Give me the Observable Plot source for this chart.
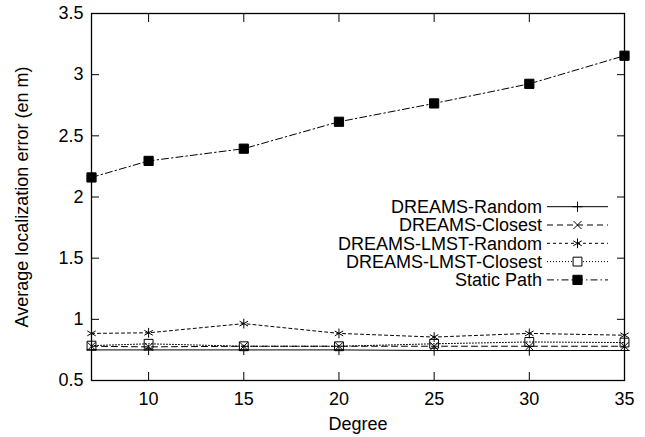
<!DOCTYPE html>
<html>
<head>
<meta charset="utf-8">
<script src="https://cdn.jsdelivr.net/npm/d3@7"></script>
<script src="https://cdn.jsdelivr.net/npm/@observablehq/plot@0.6"></script>
<style>
  html, body { margin: 0; padding: 0; background: white; }
</style>
</head>
<body>
<div id="chart"></div>
<script>
const degrees = [7, 10, 15, 20, 25, 30, 35];
const xTicks = [10, 15, 20, 25, 30, 35];
const yTicks = [0.5, 1, 1.5, 2, 2.5, 3, 3.5];

const seriesNames = ["DREAMS-Random", "DREAMS-Closest", "DREAMS-LMST-Random", "DREAMS-LMST-Closest", "Static Path"];
const dreamsRandom = [0.75, 0.75, 0.75, 0.75, 0.745, 0.745, 0.745];
const dreamsClosest = [0.78, 0.775, 0.78, 0.78, 0.78, 0.78, 0.78];
const lmstRandom = [0.885, 0.89, 0.965, 0.885, 0.855, 0.885, 0.87];
const lmstClosest = [0.785, 0.80, 0.78, 0.78, 0.80, 0.815, 0.81];
const staticPath = [2.16, 2.295, 2.395, 2.615, 2.765, 2.925, 3.155];

const seriesValues = [dreamsRandom, dreamsClosest, lmstRandom, lmstClosest, staticPath];
const dashes = [null, "6,4", "3,3", "1,2", "7,3,1.5,3"];
const symbols = ["plus", "times", "asterisk", "square", "square"];
const fills = ["none", "none", "none", "none", "black"];
const radii = [3.4, 3.7, 4.6, 5, 5.2];

const rows = [];
seriesNames.forEach((name, i) => {
  degrees.forEach((d, j) => rows.push({series: name, idx: i, degree: d, value: seriesValues[i][j]}));
});

const font = "'Liberation Sans', Arial, Helvetica, sans-serif";
const fs = 18;
const mL = 91, mR = 21, mT = 13, mB = 57;

const marks = [
  Plot.frame({stroke: "black", strokeWidth: 1.3}),
  Plot.axisX(xTicks, {anchor: "bottom", tickSize: 0, tickPadding: 12, fontSize: fs, label: "Degree", labelAnchor: "center", labelOffset: 49, labelArrow: "none"}),
  Plot.axisX(xTicks, {anchor: "bottom", tickSize: -8, text: null, label: null}),
  Plot.axisX(xTicks, {anchor: "top", tickSize: -8, text: null, label: null}),
  Plot.axisY(yTicks, {anchor: "left", tickSize: 0, tickPadding: 8, fontSize: fs, tickFormat: d => String(d), label: "Average localization error (en m)", labelAnchor: "center", labelOffset: 76, labelArrow: "none"}),
  Plot.axisY(yTicks, {anchor: "left", tickSize: -8, text: null, label: null}),
  Plot.axisY(yTicks, {anchor: "right", tickSize: -8, text: null, label: null})
];

seriesNames.forEach((name, i) => {
  const data = rows.filter(r => r.idx === i);
  marks.push(Plot.line(data, {x: "degree", y: "value", stroke: "black", strokeWidth: 1, strokeDasharray: dashes[i]}));
  marks.push(Plot.dot(data, {x: "degree", y: "value", symbol: symbols[i], r: radii[i], stroke: "black", strokeWidth: 1, fill: fills[i]}));
});

const plot = Plot.plot({
  width: 645,
  height: 437,
  marginLeft: mL,
  marginRight: mR,
  marginTop: mT,
  marginBottom: mB,
  style: {fontFamily: font, fontSize: fs + "px", color: "black", background: "white"},
  x: {domain: [7, 35]},
  y: {domain: [0.5, 3.5]},
  marks
});

document.getElementById("chart").appendChild(plot);

// Legend inside the plot frame (upper right, below the static path)
const xr = plot.scale("x").range;
const yr = plot.scale("y").range;
const frameRight = Math.max(...xr);
const frameTop = Math.min(...yr);
const svg = d3.select(plot);
const legend = svg.append("g").attr("font-family", font).attr("font-size", fs);
const symMap = {plus: d3.symbolPlus, times: d3.symbolTimes, asterisk: d3.symbolAsterisk, square: d3.symbolSquare};
seriesNames.forEach((name, i) => {
  const y = frameTop + 193.7 + i * 18.3;
  legend.append("text")
    .attr("x", frameRight - 82).attr("y", y)
    .attr("text-anchor", "end").attr("dy", "0.35em")
    .attr("fill", "black").text(name);
  legend.append("line")
    .attr("x1", frameRight - 77).attr("x2", frameRight - 16)
    .attr("y1", y).attr("y2", y)
    .attr("stroke", "black").attr("stroke-width", 1)
    .attr("stroke-dasharray", dashes[i]);
  legend.append("path")
    .attr("transform", `translate(${frameRight - 46.5},${y})`)
    .attr("d", d3.symbol(symMap[symbols[i]], Math.PI * radii[i] * radii[i])())
    .attr("fill", fills[i] === "black" ? "black" : "white")
    .attr("stroke", "black").attr("stroke-width", 1);
});
</script>
</body>
</html>
